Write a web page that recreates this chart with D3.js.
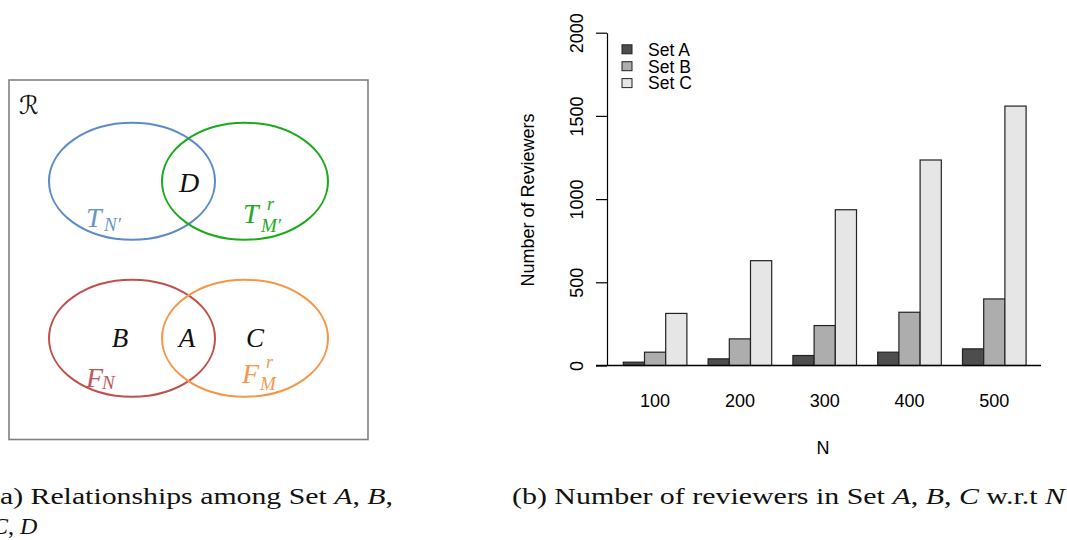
<!DOCTYPE html>
<html>
<head>
<meta charset="utf-8">
<script src="https://cdn.jsdelivr.net/npm/d3@7"></script>
<style>
  body { margin: 0; background: #fff; }
  svg { display: block; }
  .tick text { font-family: "Liberation Sans", Arial, sans-serif; font-size: 18px; fill: #000; }
  .axis-label { font-family: "Liberation Sans", Arial, sans-serif; font-size: 18px; fill: #000; }
  .legend text { font-family: "Liberation Sans", Arial, sans-serif; font-size: 17.5px; fill: #000; }
  .caption { font-family: "Liberation Serif", "DejaVu Serif", serif; font-size: 24px; fill: #111; }
  .math { font-family: "Liberation Serif", "DejaVu Serif", serif; font-style: italic; }
</style>
</head>
<body>
<div id="chart"></div>
<script>
// bar chart data
const categories = ['100', '200', '300', '400', '500'];
const setA = [20, 40, 60, 80, 100];
const setB = [80, 160, 240, 320, 400];
const setC = [313, 630, 936, 1235, 1559];
const seriesNames = ['Set A', 'Set B', 'Set C'];
const seriesColors = ['#4d4d4d', '#adadad', '#e6e6e6'];
const yTicks = [0, 500, 1000, 1500, 2000];

// venn diagram sets
const vennSets = ['T', 'Tr', 'F', 'Fr'];
const vennColors = ['#5b8cc8', '#1aaa1a', '#c0504d', '#f79646'];

const W = 1067, H = 540;
const svg = d3.select('#chart').append('svg')
  .attr('width', W)
  .attr('height', H);

// ---------- (b) grouped bar chart ----------
const series = [setA, setB, setC];
const rows = categories.map((c, i) => ({
  cat: c,
  vals: series.map((s, j) => ({ key: seriesNames[j], v: s[i], color: seriesColors[j] }))
}));

const x0 = d3.scaleBand()
  .domain(categories)
  .range([623.3, 1026.1])
  .paddingInner(0.25)
  .paddingOuter(0);

const x1 = d3.scaleBand()
  .domain(seriesNames)
  .range([0, x0.bandwidth()]);

const y = d3.scaleLinear()
  .domain([0, 2000])
  .range([365.5, 32.7]);

const plot = svg.append('g');

plot.selectAll('g.group')
  .data(rows)
  .enter()
  .append('g')
  .attr('class', 'group')
  .attr('transform', d => 'translate(' + x0(d.cat) + ',0)')
  .selectAll('rect')
  .data(d => d.vals)
  .enter()
  .append('rect')
  .attr('x', d => x1(d.key))
  .attr('width', x1.bandwidth())
  .attr('y', d => y(d.v))
  .attr('height', d => y(0) - y(d.v))
  .attr('fill', d => d.color)
  .attr('stroke', '#222')
  .attr('stroke-width', 1.2);

// baseline
plot.append('line')
  .attr('x1', 596).attr('x2', 1041)
  .attr('y1', y(0)).attr('y2', y(0))
  .attr('stroke', '#000')
  .attr('stroke-width', 1.3);

// y axis
const yAxis = plot.append('g')
  .attr('transform', 'translate(607,0)')
  .call(d3.axisLeft(y).tickValues(yTicks).tickFormat(d3.format('d'))
    .tickSize(11).tickPadding(0).tickSizeOuter(0));
yAxis.select('.domain').attr('stroke', '#000').attr('stroke-width', 1.2);
yAxis.selectAll('.tick line').attr('stroke', '#000').attr('stroke-width', 1.2);
yAxis.selectAll('.tick text')
  .attr('x', null).attr('dy', null)
  .attr('text-anchor', 'middle')
  .attr('transform', 'translate(-24,0) rotate(-90)');

// x category labels
const xAxis = plot.append('g')
  .attr('transform', 'translate(0,' + y(0) + ')')
  .call(d3.axisBottom(x0).tickSize(0).tickPadding(0));
xAxis.select('.domain').remove();
xAxis.selectAll('.tick text').attr('dy', null).attr('y', 41.5);

plot.append('text')
  .attr('class', 'axis-label')
  .attr('x', 823).attr('y', 454)
  .attr('text-anchor', 'middle')
  .text('N');

plot.append('text')
  .attr('class', 'axis-label')
  .attr('transform', 'translate(534,200) rotate(-90)')
  .attr('text-anchor', 'middle')
  .text('Number of Reviewers');

// legend
const legend = plot.append('g').attr('class', 'legend');
const leg = legend.selectAll('g')
  .data(seriesNames)
  .enter()
  .append('g')
  .attr('transform', (d, i) => 'translate(622,' + (49.3 + i * 16.9) + ')');
leg.append('rect')
  .attr('x', 0).attr('y', -4.5)
  .attr('width', 10).attr('height', 9)
  .attr('fill', (d, i) => seriesColors[i])
  .attr('stroke', '#222')
  .attr('stroke-width', 1);
leg.append('text')
  .attr('x', 26).attr('y', 6.3)
  .text(d => d);

// ---------- (a) venn diagram ----------
const venn = svg.append('g');
venn.append('rect')
  .attr('x', 9).attr('y', 80)
  .attr('width', 359).attr('height', 359.5)
  .attr('fill', 'none')
  .attr('stroke', '#808080')
  .attr('stroke-width', 1.6);

const ex = d3.scalePoint().domain(['left', 'right']).range([132, 245]);
const ey = d3.scalePoint().domain(['top', 'bottom']).range([181.2, 338.3]);
const ellipses = [
  { set: vennSets[0], col: 'left', row: 'top', color: vennColors[0] },
  { set: vennSets[1], col: 'right', row: 'top', color: vennColors[1] },
  { set: vennSets[2], col: 'left', row: 'bottom', color: vennColors[2] },
  { set: vennSets[3], col: 'right', row: 'bottom', color: vennColors[3] }
];
venn.selectAll('ellipse')
  .data(ellipses)
  .enter()
  .append('ellipse')
  .attr('cx', d => ex(d.col))
  .attr('cy', d => ey(d.row))
  .attr('rx', 83)
  .attr('ry', 58.5)
  .attr('fill', 'none')
  .attr('stroke', d => d.color)
  .attr('stroke-width', 2);

function mathText (x, yy, str, size, color, anchor) {
  return venn.append('text')
    .attr('class', 'math')
    .attr('x', x).attr('y', yy)
    .attr('font-size', size)
    .attr('fill', color)
    .attr('text-anchor', anchor || 'start')
    .text(str);
}

venn.append('text')
  .attr('x', 19).attr('y', 114)
  .attr('font-family', '"DejaVu Serif", "DejaVu Sans", serif')
  .attr('font-style', 'italic')
  .attr('font-size', 25)
  .attr('fill', '#111')
  .text('\u211B');

mathText(189, 191.5, 'D', 28, '#111', 'middle');
mathText(120, 346.5, 'B', 27, '#111', 'middle');
mathText(187, 346.5, 'A', 27, '#111', 'middle');
mathText(255, 346.5, 'C', 27, '#111', 'middle');

// T_{N'}
mathText(86, 226.5, 'T', 28, '#6a93cc');
mathText(104, 230.5, 'N\u2032', 19, '#6a93cc');
// T^r_{M'}
mathText(243, 223.3, 'T', 28, '#22a822');
mathText(267, 209.5, 'r', 18, '#22a822');
mathText(261, 232, 'M\u2032', 19, '#22a822');
// F_N
mathText(86, 386.5, 'F', 28, '#c4555a');
mathText(102, 388.5, 'N', 19, '#c4555a');
// F^r_M
mathText(242, 383, 'F', 28, '#f5984c');
mathText(266, 367.5, 'r', 18, '#f5984c');
mathText(260, 389.5, 'M', 19, '#f5984c');

// ---------- captions ----------
const capA = svg.append('text').attr('class', 'caption')
  .attr('x', -10).attr('y', 504)
  .attr('textLength', 403).attr('lengthAdjust', 'spacingAndGlyphs');
capA.append('tspan').text('(a) Relationships among Set ');
capA.append('tspan').attr('font-style', 'italic').text('A');
capA.append('tspan').text(', ');
capA.append('tspan').attr('font-style', 'italic').text('B');
capA.append('tspan').text(',');

const capA2 = svg.append('text').attr('class', 'caption')
  .attr('x', -8).attr('y', 534);
capA2.append('tspan').attr('font-style', 'italic').text('C');
capA2.append('tspan').text(', ');
capA2.append('tspan').attr('font-style', 'italic').text('D');

const capB = svg.append('text').attr('class', 'caption')
  .attr('x', 512).attr('y', 504)
  .attr('textLength', 553).attr('lengthAdjust', 'spacingAndGlyphs');
capB.append('tspan').text('(b) Number of reviewers in Set ');
capB.append('tspan').attr('font-style', 'italic').text('A');
capB.append('tspan').text(', ');
capB.append('tspan').attr('font-style', 'italic').text('B');
capB.append('tspan').text(', ');
capB.append('tspan').attr('font-style', 'italic').text('C');
capB.append('tspan').text(' w.r.t ');
capB.append('tspan').attr('font-style', 'italic').text('N');
</script>
</body>
</html>
